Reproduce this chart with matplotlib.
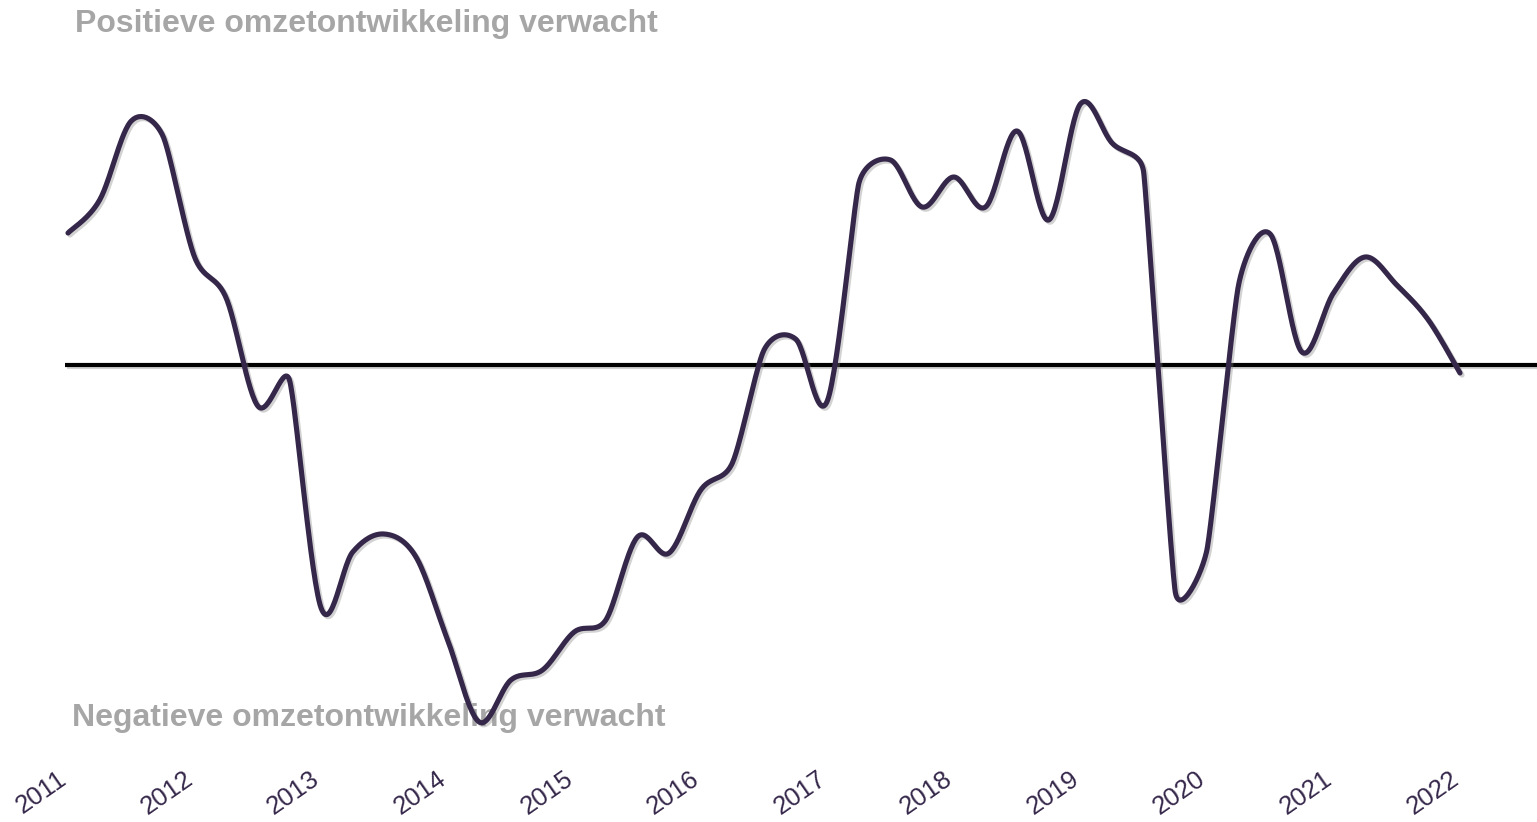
import numpy as np
import matplotlib
matplotlib.use("Agg")
import matplotlib.pyplot as plt
import matplotlib.patheffects as pe
import matplotlib.transforms as mtransforms

# ---- data (quarterly, 2011Q1 .. 2022Q1) ----
quarters = np.arange(45)
values = [13.2, 16.5, 24.4, 22.9, 10.8, 6.7, -4.1, -1.5, -24.3, -18.7,
          -16.9, -19.2, -27.5, -35.7, -31.5, -30.5, -26.7, -25.5, -17.2, -18.8,
          -12.5, -9.8, 1.5, 2.6, -3.6, 18.2, 20.5, 15.8, 18.8, 15.8,
          23.4, 14.5, 26.1, 22.2, 19.3, -22.7, -18.5, 8.0, 13.1, 1.3,
          7.2, 10.8, 8.0, 4.5, -0.8]
years = [str(y) for y in range(2011, 2023)]
year_pos = [4 * i for i in range(len(years))]
label_top = "Positieve omzetontwikkeling verwacht"
label_bottom = "Negatieve omzetontwikkeling verwacht"

LINE_COLOR = "#35274a"
GRAY = "#a6a6a6"
FONT = ["Liberation Sans", "DejaVu Sans"]

W, H = 1537, 822
fig = plt.figure(figsize=(W / 100, H / 100), dpi=100)
ax = fig.add_axes([0, 0, 1, 1])
ax.set_axis_off()

px_per_q = (1460 - 68) / 44.0
ax.set_xlim(-68 / px_per_q, (W - 68) / px_per_q)
ax.set_ylim((365 - H) / 10.0, 365 / 10.0)


def excel_smooth(ax, x, y, n=30):
    """Excel-like smoothed line: cubic Bezier with tangents (P[i+1]-P[i-1])/6,
    limited to half the adjacent segment lengths (computed in display space)."""
    pts = ax.transData.transform(np.column_stack([x, y]))
    m = len(pts)
    ext = np.vstack([pts[0], pts, pts[-1]])
    tang = []
    for i in range(m):
        pm, p, pp = ext[i], ext[i + 1], ext[i + 2]
        T = pp - pm
        dT = np.hypot(*T)
        dprev = np.hypot(*(p - pm))
        dnext = np.hypot(*(pp - p))
        f = 1 / 6.0
        if dT > 0:
            lim = 0.5 * min(dprev if dprev > 0 else dnext, dnext if dnext > 0 else dprev)
            if dT * f > lim:
                f = lim / dT
        tang.append(T * f)
    t = np.linspace(0, 1, n, endpoint=False)[:, None]
    out = []
    for i in range(m - 1):
        p0, p3 = pts[i], pts[i + 1]
        c1, c2 = p0 + tang[i], p3 - tang[i + 1]
        out.append((1 - t) ** 3 * p0 + 3 * (1 - t) ** 2 * t * c1
                   + 3 * (1 - t) * t ** 2 * c2 + t ** 3 * p3)
    out.append(pts[-1:])
    curve = ax.transData.inverted().transform(np.vstack(out))
    return curve[:, 0], curve[:, 1]


shadow = [pe.SimpleLineShadow(offset=(1.5, -1.5), shadow_color="0.5", alpha=0.35),
          pe.Normal()]

# zero line
ax.plot([-3 / px_per_q, (W - 68) / px_per_q], [0, 0], color="black", lw=3.0,
        solid_capstyle="butt", zorder=2, path_effects=shadow)

fig.canvas.draw()
sx, sy = excel_smooth(ax, quarters, values)
ax.plot(sx, sy, color=LINE_COLOR, lw=3.7, solid_capstyle="round",
        solid_joinstyle="round", zorder=3, path_effects=shadow)

trans = mtransforms.blended_transform_factory(ax.transData, ax.transAxes)
for yr, pos in zip(years, year_pos):
    ax.text(pos + 3 / px_per_q, 1 - 767 / H, yr, transform=trans, rotation=35,
            ha="right", va="top", fontsize=18.5, color=LINE_COLOR,
            family=FONT, zorder=4)

ax.text(75 / W, 1 - 9 / H, label_top, transform=ax.transAxes, ha="left", va="top",
        fontsize=23, fontweight="bold", color=GRAY, family=FONT, zorder=1)
ax.text(72 / W, 1 - 703 / H, label_bottom, transform=ax.transAxes, ha="left", va="top",
        fontsize=23, fontweight="bold", color=GRAY, family=FONT, zorder=1)

fig.savefig("out.png", dpi=100)
